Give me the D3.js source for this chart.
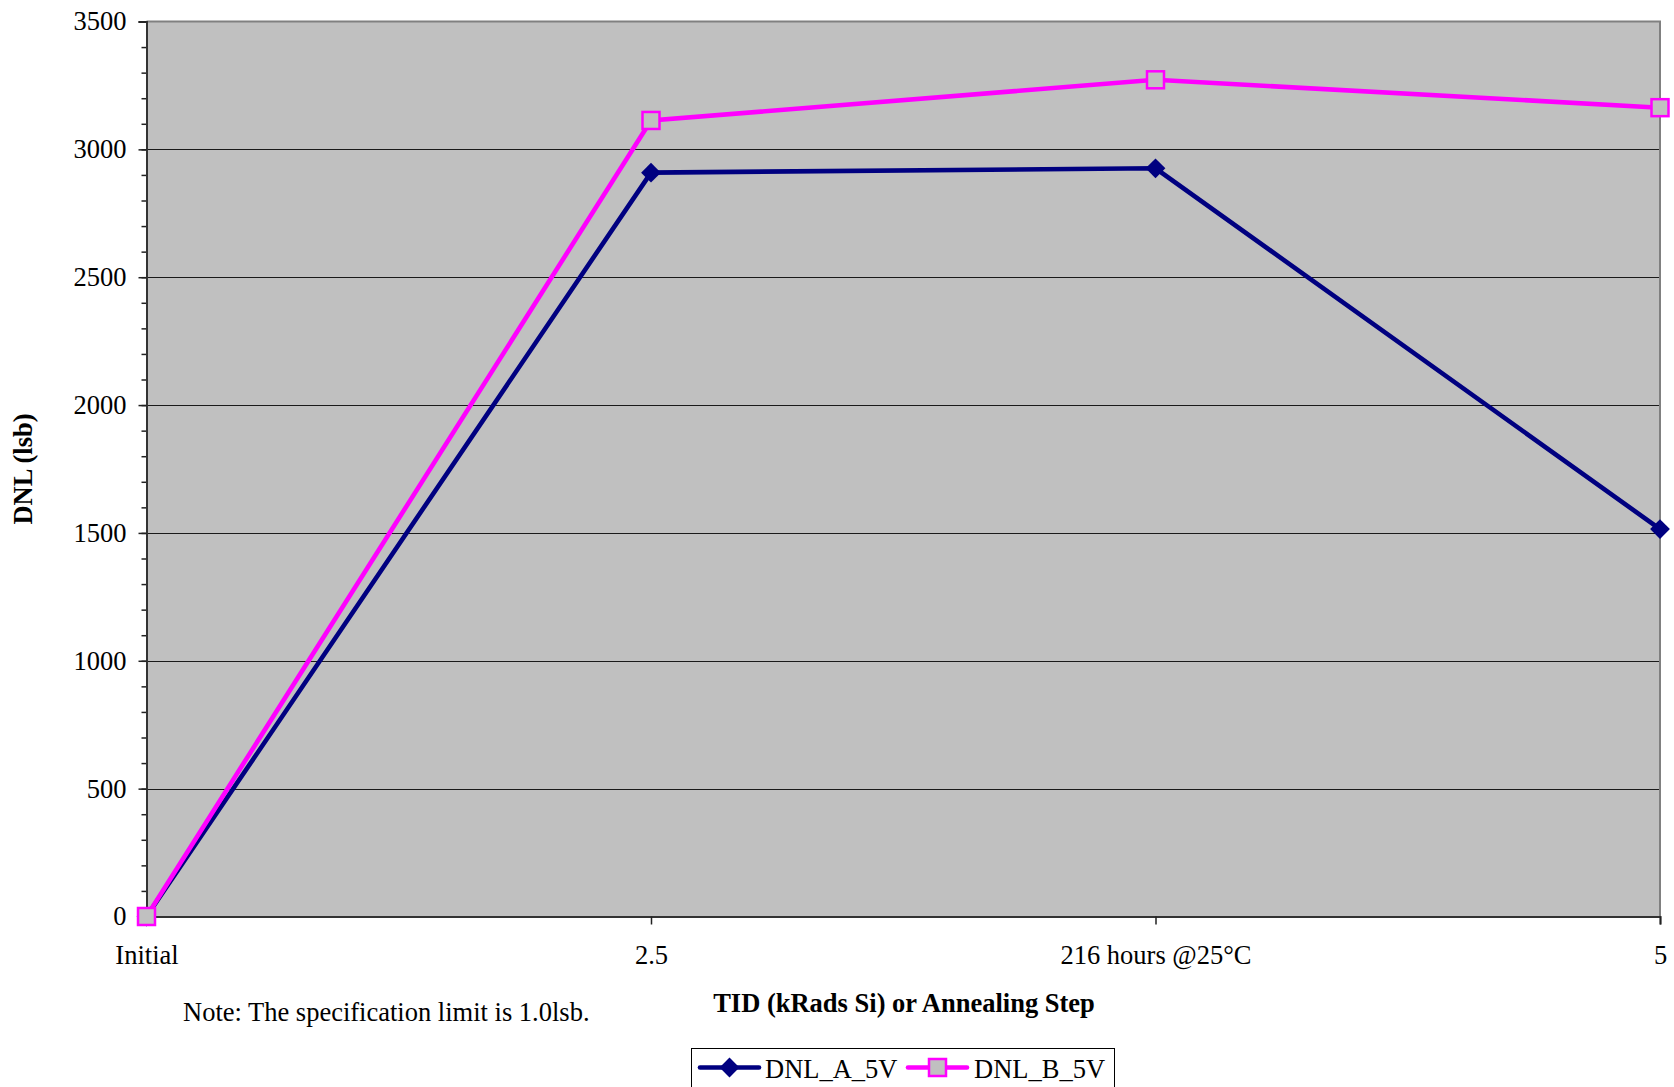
<!DOCTYPE html>
<html>
<head>
<meta charset="utf-8">
<script src="https://cdn.jsdelivr.net/npm/d3@7"></script>
<style>
  html, body { margin: 0; padding: 0; background: #fff; }
  svg { display: block; }
  text { font-family: "Liberation Serif", "Times New Roman", serif; fill: #000; }
</style>
</head>
<body>
<script>
// Annealing / dose steps along the x axis
const categories = ["Initial", "2.5", "216 hours @25\u00B0C", "5"];
// DNL readings (lsb) per step
const dnlA = [0, 2909, 2926, 1515];
const dnlB = [0, 3113, 3272, 3163];
const seriesNames = ["DNL_A_5V", "DNL_B_5V"];
const yTicks = [0, 500, 1000, 1500, 2000, 2500, 3000, 3500];

const W = 1674, H = 1087;
const FS = 26.5;
const plot = { left: 146.5, right: 1660, top: 21.5, bottom: 916.5 };

const svg = d3.select("body").append("svg").attr("width", W).attr("height", H);

const x = d3.scalePoint().domain(categories).range([plot.left, plot.right]).padding(0);
const y = d3.scaleLinear().domain([0, 3500]).range([plot.bottom, plot.top]);

// plot area background
svg.append("rect")
  .attr("x", plot.left).attr("y", plot.top)
  .attr("width", plot.right - plot.left).attr("height", plot.bottom - plot.top)
  .attr("fill", "#C0C0C0");

// horizontal gridlines
svg.append("g").selectAll("line")
  .data(yTicks.filter(v => v > 0 && v < 3500))
  .join("line")
  .attr("x1", plot.left).attr("x2", plot.right)
  .attr("y1", d => Math.round(y(d)) + 0.5).attr("y2", d => Math.round(y(d)) + 0.5)
  .attr("stroke", "#1a1a1a").attr("stroke-width", 1.2);

// top and right frame
svg.append("path")
  .attr("d", `M${plot.left},${plot.top}H${plot.right}V${plot.bottom}`)
  .attr("fill", "none").attr("stroke", "#808080").attr("stroke-width", 2);

// y axis with minor ticks
const yMinor = d3.range(0, 3501, 100);
svg.append("g")
  .attr("transform", `translate(${plot.left},0)`)
  .call(d3.axisLeft(y).tickValues(yMinor).tickSize(5).tickFormat(""))
  .call(g => g.select(".domain").remove())
  .call(g => g.selectAll("line").attr("stroke", "#222").attr("stroke-width", 1.5));

const yAxis = svg.append("g")
  .attr("transform", `translate(${plot.left},0)`)
  .call(d3.axisLeft(y).tickValues(yTicks).tickSize(8).tickPadding(12).tickFormat(d3.format("d")));
yAxis.select(".domain").attr("stroke", "#333").attr("stroke-width", 2);
yAxis.selectAll("line").attr("stroke", "#222").attr("stroke-width", 1.5);
yAxis.selectAll("text").attr("font-size", FS).attr("font-family", "Liberation Serif").attr("fill", "#000");

// x axis
const xAxis = svg.append("g")
  .attr("transform", `translate(0,${plot.bottom})`)
  .call(d3.axisBottom(x).tickSize(8).tickPadding(21));
xAxis.select(".domain").attr("stroke", "#333").attr("stroke-width", 2);
xAxis.selectAll("line").attr("stroke", "#222").attr("stroke-width", 1.5);
xAxis.selectAll("text").attr("font-size", FS).attr("font-family", "Liberation Serif").attr("fill", "#000");

// axis titles
svg.append("text")
  .attr("x", 904).attr("y", 1012)
  .attr("text-anchor", "middle").attr("font-weight", "bold").attr("font-size", FS)
  .text("TID (kRads Si) or Annealing Step");

svg.append("text")
  .attr("transform", "translate(32,469) rotate(-90)")
  .attr("text-anchor", "middle").attr("font-weight", "bold").attr("font-size", FS)
  .text("DNL (lsb)");

svg.append("text")
  .attr("x", 183).attr("y", 1021)
  .attr("font-size", FS)
  .text("Note: The specification limit is 1.0lsb.");

// series
const line = d3.line().x((d, i) => x(categories[i])).y(d => y(d));
const colA = "#000080", colB = "#FF00FF";

svg.append("path").datum(dnlA)
  .attr("d", line).attr("fill", "none").attr("stroke", colA).attr("stroke-width", 4.6);
svg.append("path").datum(dnlB)
  .attr("d", line).attr("fill", "none").attr("stroke", colB).attr("stroke-width", 4.6);

const diamond = d3.symbol().type(d3.symbolSquare).size(14 * 14);
svg.append("g").selectAll("path")
  .data(dnlA)
  .join("path")
  .attr("transform", (d, i) => `translate(${x(categories[i])},${y(d)}) rotate(45)`)
  .attr("d", diamond)
  .attr("fill", colA);

svg.append("g").selectAll("rect")
  .data(dnlB)
  .join("rect")
  .attr("x", (d, i) => x(categories[i]) - 8.5).attr("y", d => y(d) - 8.5)
  .attr("width", 17).attr("height", 17)
  .attr("fill", "#C0C0C0").attr("stroke", colB).attr("stroke-width", 2.5);

// legend
const lg = svg.append("g");
lg.append("rect")
  .attr("x", 691.5).attr("y", 1048.5).attr("width", 423).attr("height", 60)
  .attr("fill", "#fff").attr("stroke", "#000").attr("stroke-width", 1);

const legendItems = [
  { name: seriesNames[0], color: colA, x0: 700, tx: 765, type: "diamond" },
  { name: seriesNames[1], color: colB, x0: 908, tx: 974, type: "square" }
];
const ly = 1067.5;
legendItems.forEach(it => {
  lg.append("line")
    .attr("x1", it.x0).attr("x2", it.x0 + 59)
    .attr("y1", ly).attr("y2", ly)
    .attr("stroke", it.color).attr("stroke-width", 4.6).attr("stroke-linecap", "round");
  if (it.type === "diamond") {
    lg.append("path")
      .attr("transform", `translate(${it.x0 + 29.5},${ly}) rotate(45)`)
      .attr("d", diamond).attr("fill", it.color);
  } else {
    lg.append("rect")
      .attr("x", it.x0 + 29.5 - 8.5).attr("y", ly - 8.5).attr("width", 17).attr("height", 17)
      .attr("fill", "#C0C0C0").attr("stroke", it.color).attr("stroke-width", 2.5);
  }
  lg.append("text")
    .attr("x", it.tx).attr("y", 1078)
    .attr("font-size", FS)
    .text(it.name);
});
</script>
</body>
</html>
